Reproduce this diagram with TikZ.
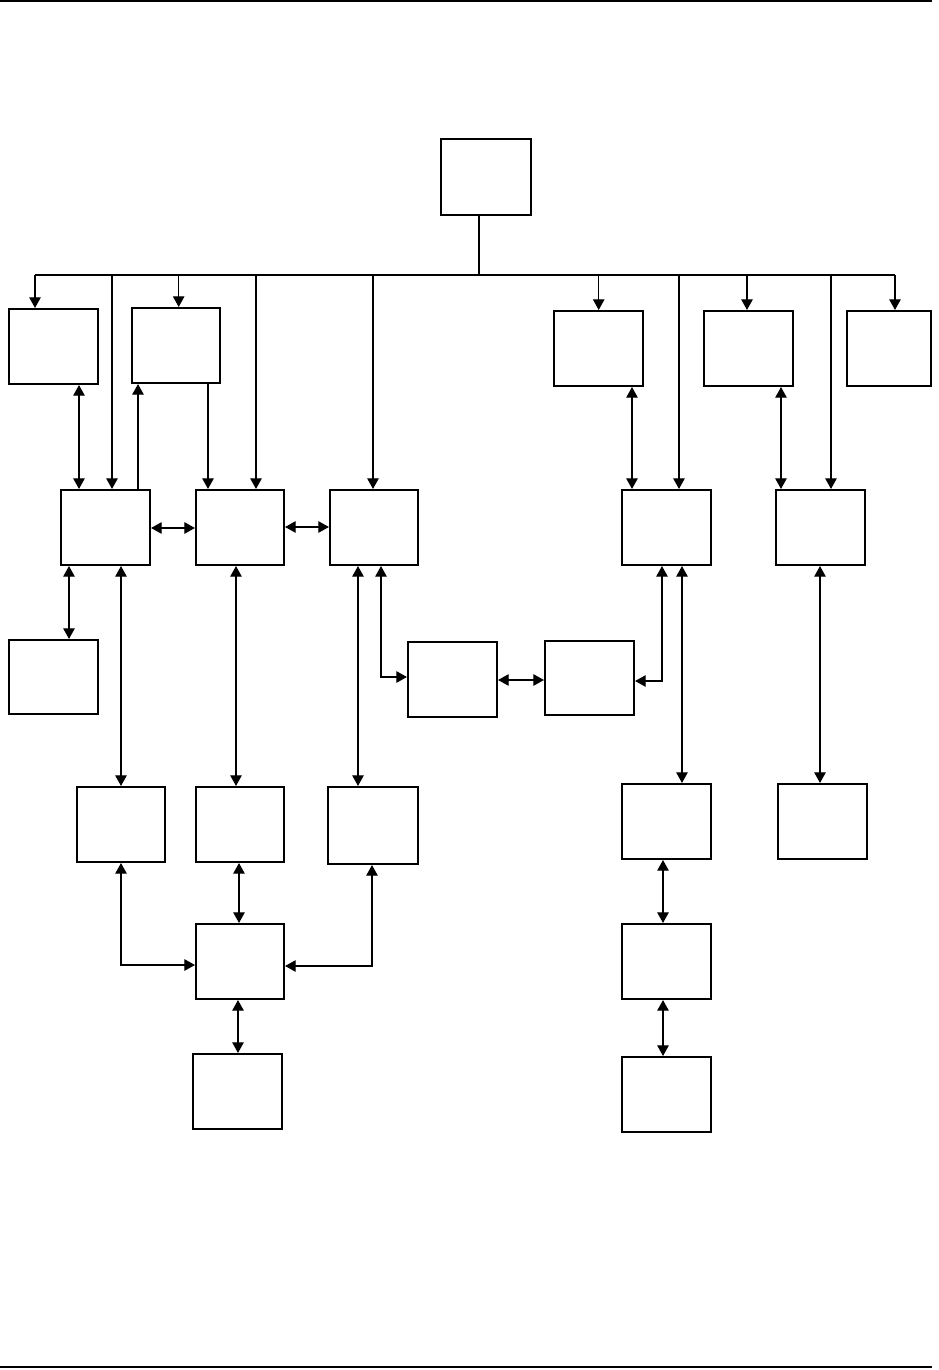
\documentclass[tikz,border=0pt]{standalone}
\usepackage{tikz}
\usetikzlibrary{arrows.meta,fit,positioning,calc}
\tikzset{
  every picture/.style={line width=0.6pt},
  blk/.style={draw, line width=1.2pt, inner sep=0pt, fit={#1}},
  sArr/.style={-{Triangle[length=6pt,width=6.5pt]}},
  sDbl/.style={{Triangle[length=6pt,width=6.5pt]}-{Triangle[length=6pt,width=6.5pt]}},
  sRule/.style={line width=1.2pt},
}

\begin{document}
\begin{tikzpicture}[x=0.02cm,y=-0.02cm]
\useasboundingbox (0,0) rectangle (938,1370);
\draw[sRule] (0,1) -- (932,1); \draw[sRule] (0,1367) -- (932,1367);
% boxes
\node[blk={(441,139) (531,215)}, line width=1.4pt] (top) {};
\node[blk={(9,309) (98,384)}] (a1) {}; \node[blk={(132,308) (220,383)}] (a2) {};
\node[blk={(554,311) (643,386)}] (b1) {}; \node[blk={(704,311) (793,386)}] (b2) {}; \node[blk={(847,311) (931,386)}] (b3) {};
\node[blk={(61,490) (150,565)}] (c1) {}; \node[blk={(196,490) (284,565)}] (c2) {}; \node[blk={(330,490) (418,565)}] (c3) {};
\node[blk={(622,490) (711,565)}] (d1) {}; \node[blk={(776,490) (865,565)}] (d2) {};
\node[blk={(9,640) (98,714)}] (a3) {}; \node[blk={(408,642) (497,717)}] (e1) {}; \node[blk={(545,641) (634,715)}] (e2) {};
\node[blk={(77,787) (165,862)}] (f1) {}; \node[blk={(196,787) (284,862)}] (f2) {}; \node[blk={(328,787) (418,864)}] (f3) {};
\node[blk={(622,784) (711,859)}] (g1) {}; \node[blk={(778,784) (867,859)}] (g2) {};
\node[blk={(196,924) (284,999)}] (h) {}; \node[blk={(193,1054) (282,1129)}] (i) {};
\node[blk={(622,924) (711,999)}] (j) {}; \node[blk={(622,1057) (711,1132)}] (k) {};
% bus
\coordinate (busL) at (35,275); \coordinate (busR) at (895,275);
\draw (top.south -| 479,0) -- (busL -| 479,0); \draw (busL) -- (busR);
\foreach \x/\n in {35/a1,178.7/a2,598.7/b1,747/b2,895/b3,112/c1,256/c2,373/c3,679/d1,831/d2}
  \draw[sArr] (busL -| \x,0) -- (\n.north -| \x,0);
% row 1 to row 2
\draw[sDbl] (a1.south -| 79,0) -- (c1.north -| 79,0);
\draw[sArr] (c1.north -| 138,0) -- (a2.south -| 138,0);
\draw[sArr] (a2.south -| 208,0) -- (c2.north -| 208,0);
\draw[sDbl] (b1.south -| 632,0) -- (d1.north -| 632,0);
\draw[sDbl] (b2.south -| 781,0) -- (d2.north -| 781,0);
\draw[sDbl] (c1.east |- 0,528) -- (c2.west |- 0,528); \draw[sDbl] (c2.east |- 0,527) -- (c3.west |- 0,527);
% row 2 down
\draw[sDbl] (c1.south -| 69,0) -- (a3.north -| 69,0);
\draw[sDbl] (c1.south -| 121,0) -- (f1.north -| 121,0);
\draw[sDbl] (c2.south -| 236,0) -- (f2.north -| 236,0);
\draw[sDbl] (c3.south -| 358,0) -- (f3.north -| 358,0);
\draw[sDbl] (c3.south -| 381,0) |- (e1.west |- 0,677);
\draw[sDbl] (e1.east |- 0,680) -- (e2.west |- 0,680);
\draw[sDbl] (d1.south -| 662,0) |- (e2.east |- 0,681);
\draw[sDbl] (d1.south -| 682,0) -- (g1.north -| 682,0);
\draw[sDbl] (d2.south -| 820,0) -- (g2.north -| 820,0);
% lower part
\draw[sDbl] (f1.south -| 121,0) |- (h.west |- 0,965);
\draw[sDbl] (f2.south -| 239,0) -- (h.north -| 239,0);
\draw[sDbl] (f3.south -| 372,0) |- (h.east |- 0,966);
\draw[sDbl] (h.south -| 238,0) -- (i.north -| 238,0);
\draw[sDbl] (g1.south -| 663,0) -- (j.north -| 663,0);
\draw[sDbl] (j.south -| 663,0) -- (k.north -| 663,0);
\end{tikzpicture}
\end{document}
